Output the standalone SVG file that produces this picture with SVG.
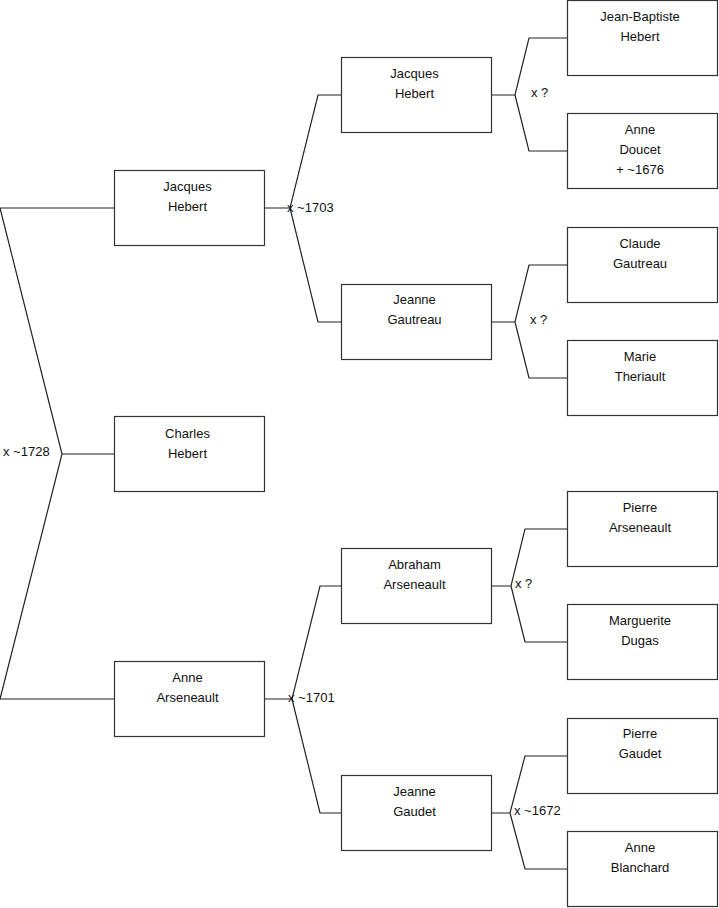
<svg xmlns="http://www.w3.org/2000/svg" width="719" height="908" viewBox="0 0 719 908">
<style>
.box{fill:#fff;stroke:#333;stroke-width:1.2}
.ln{fill:none;stroke:#222;stroke-width:1.2}
text{font-family:"Liberation Sans",Arial,sans-serif;font-size:13px;fill:#111}
.c{text-anchor:middle}
</style>
<rect width="719" height="908" fill="#fff"/>
<g id="connectors">
<path class="ln" d="M114,208H0L62,454L0,699H114M62,454H114"/>
<path class="ln" d="M265,208H290L318,95H341M290,208L318,322H341"/>
<path class="ln" d="M265,699H292L320,586H341M292,699L320,813H341"/>
<path class="ln" d="M492,95H515L529,38H567M515,95L529,151H567"/>
<path class="ln" d="M492,322H515L529,265H567M515,322L529,378H567"/>
<path class="ln" d="M492,586H511L525,529H567M511,586L525,642H567"/>
<path class="ln" d="M492,813H510L525,756H567M510,813L525,869H567"/>
<text x="3" y="456">x ~1728</text>
<text x="287" y="212">x ~1703</text>
<text x="288" y="702">x ~1701</text>
<text x="531" y="97">x ?</text>
<text x="530" y="324">x ?</text>
<text x="515" y="588">x ?</text>
<text x="514" y="815">x ~1672</text>
</g>
<g id="charles"><rect class="box" x="114.5" y="416.5" width="150" height="75"/><text class="c" x="187.5" y="438">Charles</text><text class="c" x="187.5" y="458">Hebert</text></g>
<g id="jacques2"><rect class="box" x="114.5" y="170.5" width="150" height="75"/><text class="c" x="187.5" y="191">Jacques</text><text class="c" x="187.5" y="211">Hebert</text></g>
<g id="anne2"><rect class="box" x="114.5" y="661.5" width="150" height="75"/><text class="c" x="187.5" y="682">Anne</text><text class="c" x="187.5" y="702">Arseneault</text></g>
<g id="jacques3"><rect class="box" x="341.5" y="57.5" width="150" height="75"/><text class="c" x="414.5" y="78">Jacques</text><text class="c" x="414.5" y="98">Hebert</text></g>
<g id="jeanne-gautreau"><rect class="box" x="341.5" y="284.5" width="150" height="75"/><text class="c" x="414.5" y="304">Jeanne</text><text class="c" x="414.5" y="324">Gautreau</text></g>
<g id="abraham"><rect class="box" x="341.5" y="548.5" width="150" height="75"/><text class="c" x="414.5" y="569">Abraham</text><text class="c" x="414.5" y="589">Arseneault</text></g>
<g id="jeanne-gaudet"><rect class="box" x="341.5" y="775.5" width="150" height="75"/><text class="c" x="414.5" y="796">Jeanne</text><text class="c" x="414.5" y="816">Gaudet</text></g>
<g id="jean-baptiste"><rect class="box" x="567.5" y="0.5" width="150" height="75"/><text class="c" x="640" y="21">Jean-Baptiste</text><text class="c" x="640" y="41">Hebert</text></g>
<g id="anne-doucet"><rect class="box" x="567.5" y="113.5" width="150" height="75"/><text class="c" x="640" y="134">Anne</text><text class="c" x="640" y="154">Doucet</text><text class="c" x="640" y="174">+ ~1676</text></g>
<g id="claude"><rect class="box" x="567.5" y="227.5" width="150" height="75"/><text class="c" x="640" y="248">Claude</text><text class="c" x="640" y="268">Gautreau</text></g>
<g id="marie"><rect class="box" x="567.5" y="340.5" width="150" height="75"/><text class="c" x="640" y="361">Marie</text><text class="c" x="640" y="381">Theriault</text></g>
<g id="pierre-arseneault"><rect class="box" x="567.5" y="491.5" width="150" height="75"/><text class="c" x="640" y="512">Pierre</text><text class="c" x="640" y="532">Arseneault</text></g>
<g id="marguerite"><rect class="box" x="567.5" y="604.5" width="150" height="75"/><text class="c" x="640" y="625">Marguerite</text><text class="c" x="640" y="645">Dugas</text></g>
<g id="pierre-gaudet"><rect class="box" x="567.5" y="718.5" width="150" height="75"/><text class="c" x="640" y="738">Pierre</text><text class="c" x="640" y="758">Gaudet</text></g>
<g id="anne-blanchard"><rect class="box" x="567.5" y="831.5" width="150" height="75"/><text class="c" x="640" y="852">Anne</text><text class="c" x="640" y="872">Blanchard</text></g>
</svg>
